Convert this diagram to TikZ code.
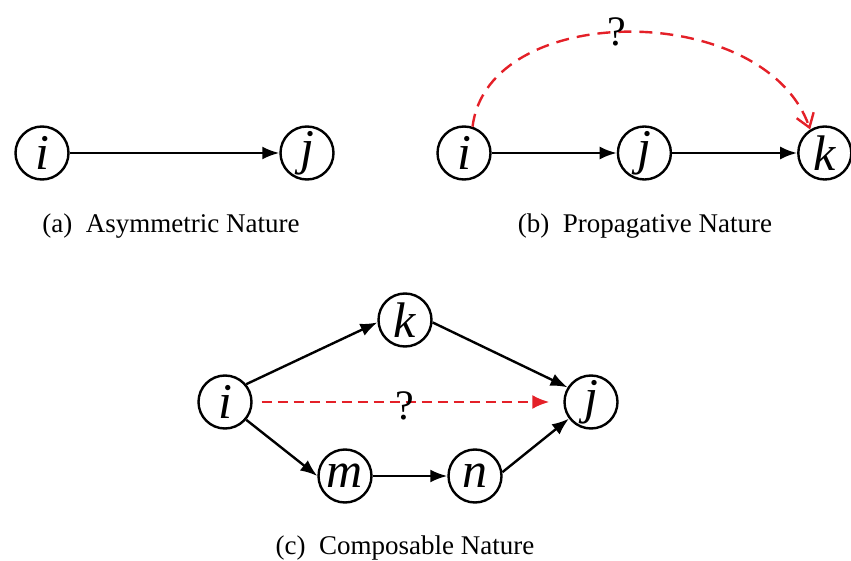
\documentclass[tikz,border=0pt]{standalone}
\usepackage{fontspec}
\setmainfont{Liberation Serif}
\usetikzlibrary{arrows.meta, positioning}
\definecolor{askred}{RGB}{228, 32, 40}

\begin{document}
\begin{tikzpicture}[
    x=1pt, y=-1pt,
    node distance=125pt,
    var/.style={circle, draw, line width=2.4pt, minimum size=53pt, inner sep=0pt,
        font=\fontsize{50}{50}\selectfont\itshape},
    edge/.style={-{Latex[length=17pt,width=13pt]}, line width=2.4pt},
    query/.style={askred, line width=2.4pt, dash pattern=on 13pt off 8pt},
    mark q/.style={black, font=\fontsize{42}{42}\selectfont, inner sep=0pt},
    caption/.style={font=\fontsize{27}{30}\selectfont}
]
    \useasboundingbox (0,0) rectangle (851,561);

    % (a) two variables
    \node[var] (ai) at (42,153) {i};
    \node[var] (aj) at (307,153) {j};
    \draw[edge] (ai.east) -- (aj.west);
    \node[caption] (capa) at (171,226) {(a)\hspace{0.5em}Asymmetric Nature};

    % (b) chain of three
    \node[var] (bi) at (464,153) {i};
    \node[var, right=of bi] (bj) {j};
    \node[var, right=of bj] (bk) {k};
    \draw[edge] (bi) -- (bj);
    \draw[edge] (bj) -- (bk);
    \draw[query, -{Straight Barb[length=13pt,width=18pt]}] (bi.72) .. controls (488,0) and (765,0) .. (bk.122)
        node[mark q, pos=0.47] (qb) {?};
    \node[caption] (capb) at (645,226) {(b)\hspace{0.5em}Propagative Nature};

    % (c) two paths from i to j
    \node[var] (ci) at (225,402) {i};
    \node[var] (ck) at (405,320) {k};
    \node[var] (cj) at (591,402) {j};
    \node[var] (cm) at (345,476) {m};
    \node[var] (cn) at (475,476) {n};
    \draw[edge] (ci.40) -- (ck.185);
    \draw[edge] (ck.-5) -- (cj.148);
    \draw[edge] (ci.-40) -- (cm.west);
    \draw[edge] (cm.east) -- (cn.west);
    \draw[edge] (cn.8) -- (cj.217);
    \draw[query, dash pattern=on 10pt off 6pt, -{Latex[length=17pt,width=14pt]}, shorten <=9pt, shorten >=14pt] (ci) -- (cj)
        node[mark q, pos=0.49, yshift=-4pt] (qc) {?};
    \node[caption] (capc) at (405,548) {(c)\hspace{0.5em}Composable Nature};
\end{tikzpicture}
\end{document}
